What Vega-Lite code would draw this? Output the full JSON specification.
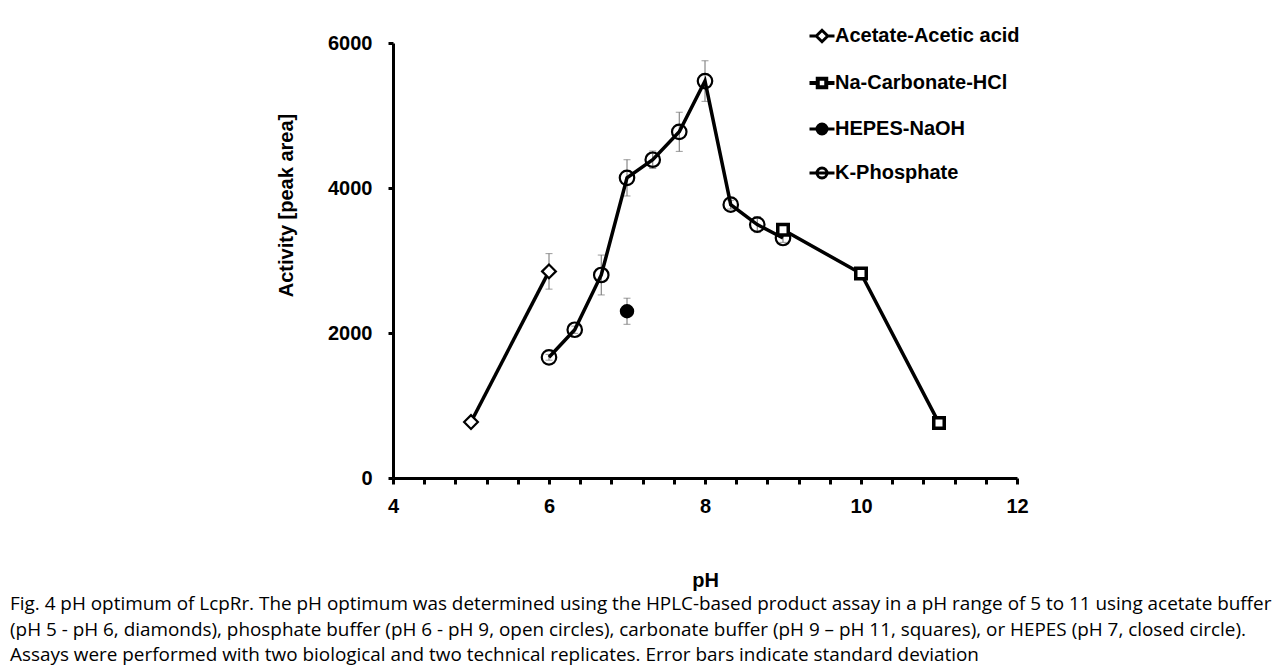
{
  "$schema": "https://vega.github.io/schema/vega-lite/v6.json",
  "autosize": {"type": "none"},
  "width": 624,
  "height": 435,
  "padding": {"left": 393, "top": 43, "right": 264, "bottom": 190},
  "background": "white",
  "config": {
    "view": {"stroke": null},
    "axis": {"grid": false, "domainColor": "black", "domainWidth": 3, "tickColor": "black", "tickWidth": 3, "labelFont": "Liberation Sans", "labelFontWeight": "bold", "labelFontSize": 20, "labelColor": "black", "titleFont": "Liberation Sans", "titleFontWeight": "bold", "titleFontSize": 20, "titleColor": "black"}
  },
  "title": {
    "text": [
      "Fig. 4 pH optimum of LcpRr. The pH optimum was determined using the HPLC-based product assay in a pH range of 5 to 11 using acetate buffer",
      "(pH 5 - pH 6, diamonds), phosphate buffer (pH 6 - pH 9, open circles), carbonate buffer (pH 9 – pH 11, squares), or HEPES (pH 7, closed circle).",
      "Assays were performed with two biological and two technical replicates. Error bars indicate standard deviation"
    ],
    "orient": "bottom",
    "anchor": "start",
    "frame": "group",
    "dx": -383,
    "offset": 5,
    "font": "Open Sans",
    "fontSize": 18.9,
    "fontWeight": "normal",
    "color": "black",
    "lineHeight": 25.5
  },
  "data": {
    "values": [
      {"series": "Acetate-Acetic acid", "pH": 5, "act": 772, "sd": 30},
      {"series": "Acetate-Acetic acid", "pH": 6, "act": 2850, "sd": 245},
      {"series": "K-Phosphate", "pH": 6, "act": 1665, "sd": 40},
      {"series": "K-Phosphate", "pH": 6.33, "act": 2045, "sd": 50},
      {"series": "K-Phosphate", "pH": 6.67, "act": 2800, "sd": 275},
      {"series": "K-Phosphate", "pH": 7, "act": 4140, "sd": 250},
      {"series": "K-Phosphate", "pH": 7.33, "act": 4390, "sd": 120},
      {"series": "K-Phosphate", "pH": 7.67, "act": 4775, "sd": 270},
      {"series": "K-Phosphate", "pH": 8, "act": 5475, "sd": 280},
      {"series": "K-Phosphate", "pH": 8.33, "act": 3770, "sd": 60},
      {"series": "K-Phosphate", "pH": 8.67, "act": 3495, "sd": 110},
      {"series": "K-Phosphate", "pH": 9, "act": 3310, "sd": 60},
      {"series": "Na-Carbonate-HCl", "pH": 9, "act": 3425, "sd": 40},
      {"series": "Na-Carbonate-HCl", "pH": 10, "act": 2820, "sd": 40},
      {"series": "Na-Carbonate-HCl", "pH": 11, "act": 757, "sd": 30},
      {"series": "HEPES-NaOH", "pH": 7, "act": 2300, "sd": 180}
    ]
  },
  "encoding": {
    "x": {
      "field": "pH", "type": "quantitative",
      "scale": {"domain": [4, 12], "nice": false, "zero": false},
      "axis": {
        "title": "pH",
        "values": [4, 4.4, 4.8, 5.2, 5.6, 6, 6.4, 6.8, 7.2, 7.6, 8, 8.4, 8.8, 9.2, 9.6, 10, 10.4, 10.8, 11.2, 11.6, 12],
        "labelExpr": "datum.value % 2 === 0 ? format(datum.value, 'd') : ''",
        "labelOverlap": false,
        "labelFlush": false,
        "tickSize": 6,
        "labelPadding": 12,
        "titlePadding": 54
      }
    },
    "y": {
      "field": "act", "type": "quantitative",
      "scale": {"domain": [0, 6000], "nice": false},
      "axis": {
        "title": "Activity [peak area]",
        "values": [0, 2000, 4000, 6000],
        "format": "d",
        "tickSize": 5,
        "labelPadding": 16,
        "titleX": -107,
        "titleY": 162,
        "titleBaseline": "middle"
      }
    }
  },
  "layer": [
    {
      "mark": {"type": "errorbar", "color": "#707070", "thickness": 1, "ticks": {"size": 7, "thickness": 1, "color": "#707070"}},
      "encoding": {
        "y": {"field": "act", "type": "quantitative", "title": "Activity [peak area]"},
        "yError": {"field": "sd"}
      }
    },
    {
      "mark": {"type": "line", "color": "black", "strokeWidth": 3.5},
      "encoding": {
        "detail": {"field": "series"},
        "order": {"field": "pH"}
      }
    },
    {
      "mark": {"type": "point", "stroke": "black", "opacity": 1},
      "encoding": {
        "shape": {
          "field": "series", "type": "nominal",
          "scale": {"domain": ["Acetate-Acetic acid", "Na-Carbonate-HCl", "HEPES-NaOH", "K-Phosphate"], "range": ["diamond", "square", "circle", "circle"]},
          "legend": null
        },
        "fill": {
          "condition": [
            {"test": "datum.series === 'HEPES-NaOH'", "value": "black"},
            {"test": "datum.series === 'K-Phosphate'", "value": "transparent"}
          ],
          "value": "white"
        },
        "size": {
          "condition": [
            {"test": "datum.series === 'HEPES-NaOH'", "value": 150},
            {"test": "datum.series === 'K-Phosphate'", "value": 210},
            {"test": "datum.series === 'Na-Carbonate-HCl'", "value": 110}
          ],
          "value": 190
        },
        "strokeWidth": {
          "condition": [
            {"test": "datum.series === 'Na-Carbonate-HCl'", "value": 3.5}
          ],
          "value": 2.2
        }
      }
    },
    {
      "mark": {"type": "point", "stroke": "black", "opacity": 0, "size": 625},
      "encoding": {
        "shape": {
          "field": "series", "type": "nominal",
          "scale": {
            "domain": ["Acetate-Acetic acid", "Na-Carbonate-HCl", "HEPES-NaOH", "K-Phosphate"],
            "range": [
              "M-1,0H-0.46M0.46,0H1M-0.46,0L0,-0.46L0.46,0L0,0.46Z",
              "M-1,0H-0.34M0.34,0H1M-0.34,-0.34H0.34V0.34H-0.34Z",
              "M-1,0H-0.4M0.4,0H1M-0.4,0A0.4,0.4,0,1,1,0.4,0A0.4,0.4,0,1,1,-0.4,0Z",
              "M-1,0H1M-0.4,0A0.4,0.4,0,1,1,0.4,0A0.4,0.4,0,1,1,-0.4,0Z"
            ]
          },
          "legend": {
            "title": null,
            "orient": "none",
            "legendX": 419,
            "legendY": -17,
            "padding": 0,
            "symbolSize": 625,
            "rowPadding": 22,
            "labelOffset": 3,
            "labelFont": "Liberation Sans",
            "labelFontWeight": "bold",
            "labelFontSize": 20,
            "labelColor": "black",
            "labelLimit": 400,
            "encoding": {
              "symbols": {
                "fill": {"value": {"expr": "datum.value === 'HEPES-NaOH' ? 'black' : datum.value === 'K-Phosphate' ? 'transparent' : 'white'"}},
                "stroke": {"value": "black"},
                "strokeWidth": {"value": {"expr": "datum.value === 'Na-Carbonate-HCl' ? 4 : 3"}},
                "size": {"value": 625},
                "opacity": {"value": 1}
              }
            }
          }
        }
      }
    }
  ],
  "resolve": {"scale": {"shape": "independent"}}
}
